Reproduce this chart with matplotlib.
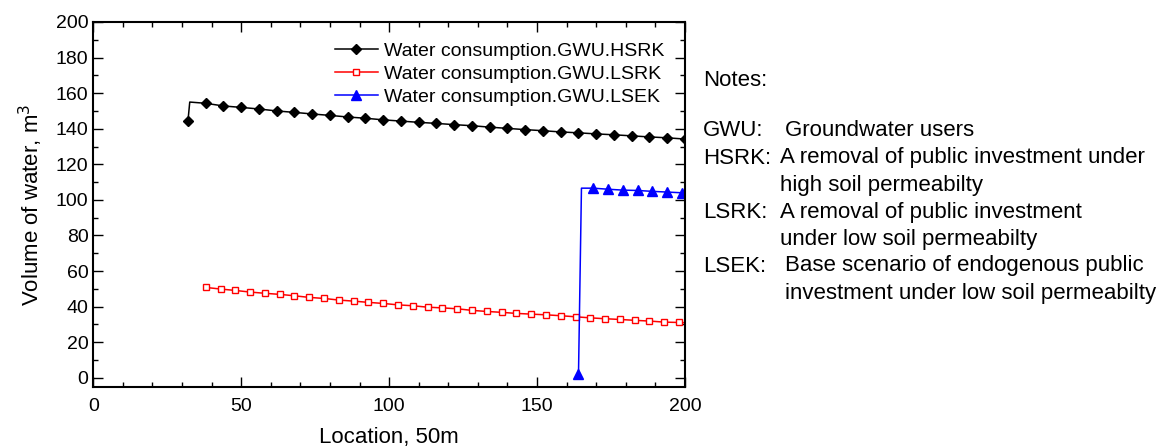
import numpy as np
import matplotlib.pyplot as plt
from matplotlib.ticker import MultipleLocator

plt.rcParams["font.family"] = ["Liberation Sans", "DejaVu Sans"]

# data (x = location, y = volume of water)
hsrk_x = [32, 32.6, 38, 44, 50, 56, 62, 68, 74, 80, 86, 92, 98, 104, 110, 116,
          122, 128, 134, 140, 146, 152, 158, 164, 170, 176, 182, 188, 194, 200]
hsrk_y = [144.5, 155.0, 154.3, 152.8, 152.0, 151.1, 150.0, 149.2, 148.3, 147.5,
          146.6, 145.9, 145.0, 144.3, 143.6, 143.0, 142.3, 141.7, 140.9, 140.2,
          139.5, 138.9, 138.2, 137.7, 137.1, 136.6, 136.0, 135.4, 134.9, 134.2]

lsrk_x = [38, 43, 48, 53, 58, 63, 68, 73, 78, 83, 88, 93, 98, 103, 108, 113,
          118, 123, 128, 133, 138, 143, 148, 153, 158, 163, 168, 173, 178, 183,
          188, 193, 198, 200]
lsrk_y = [50.8, 49.9, 49.1, 48.2, 47.5, 46.9, 46.1, 45.2, 44.6, 43.7, 43.1,
          42.4, 41.8, 41.0, 40.5, 39.7, 39.3, 38.8, 37.9, 37.3, 36.8, 36.2,
          35.8, 35.4, 34.9, 34.3, 33.7, 33.2, 32.8, 32.3, 31.9, 31.3, 31.1, 31.0]

lsek_x = [164, 165, 169, 174, 179, 184, 189, 194, 199, 200]
lsek_y = [2.0, 106.6, 106.6, 106.0, 105.5, 105.3, 104.8, 104.4, 104.0, 103.9]

labels = ["Water consumption.GWU.HSRK", "Water consumption.GWU.LSRK",
          "Water consumption.GWU.LSEK"]

notes = [("GWU:", "Groundwater users", 785),
         ("HSRK:", "A removal of public investment under", 780),
         ("", "high soil permeabilty", 780),
         ("LSRK:", "A removal of public investment", 780),
         ("", "under low soil permeabilty", 780),
         ("LSEK:", "Base scenario of endogenous public", 785),
         ("", "investment under low soil permeabilty", 785)]

W, H = 1170, 448
fig = plt.figure(figsize=(W / 100, H / 100), dpi=100)
ax = fig.add_axes([93.3 / W, 1 - 386.7 / H, (685 - 93.3) / W, (386.7 - 22) / H])

ax.plot(hsrk_x, hsrk_y, color="black", lw=1.1, marker="D", ms=4.8,
        markevery=[0] + list(range(2, len(hsrk_x))), label=labels[0])
ax.plot(lsrk_x, lsrk_y, color="red", lw=1.1, marker="s", ms=5, mfc="white",
        mec="red", mew=1.0, markevery=list(range(len(lsrk_x) - 1)), label=labels[1])
ax.plot(lsek_x, lsek_y, color="blue", lw=1.1, marker="^", ms=6.5,
        markevery=[0] + list(range(2, len(lsek_x) - 1)), label=labels[2])

ax.set_xlim(0, 200)
ax.set_ylim(-5, 200)
ax.xaxis.set_major_locator(MultipleLocator(50))
ax.xaxis.set_minor_locator(MultipleLocator(10))
ax.yaxis.set_minor_locator(MultipleLocator(10))
ax.set_yticks(np.arange(0, 201, 20))
ax.tick_params(which="both", direction="in", top=True, right=True, width=1.0,
               labelsize=14)
ax.tick_params(which="major", length=7)
ax.tick_params(which="minor", length=3.5)
ax.tick_params(axis="x", which="major", pad=8)
for sp in ax.spines.values():
    sp.set_linewidth(1.5)

ax.set_xlabel("Location, 50m", fontsize=16, labelpad=9)
ax.set_ylabel("Volume of water, m$^3$", fontsize=16, labelpad=8)

ax.legend(loc="upper left", bbox_to_anchor=(0.4085, 0.945), frameon=False,
          fontsize=14, handlelength=2.2, handletextpad=0.3, borderpad=0,
          borderaxespad=0, labelspacing=0.28)

# notes block to the right of the axes
fig.text(703 / W, 1 - 80.5 / H, "Notes:", fontsize=16, va="center")
row_y = 131
for key, desc, dx in notes:
    if key:
        fig.text(703 / W, 1 - row_y / H, key, fontsize=16, va="center")
    fig.text(dx / W, 1 - row_y / H, desc, fontsize=16, va="center")
    row_y += 27

fig.savefig("out.png", dpi=100)
